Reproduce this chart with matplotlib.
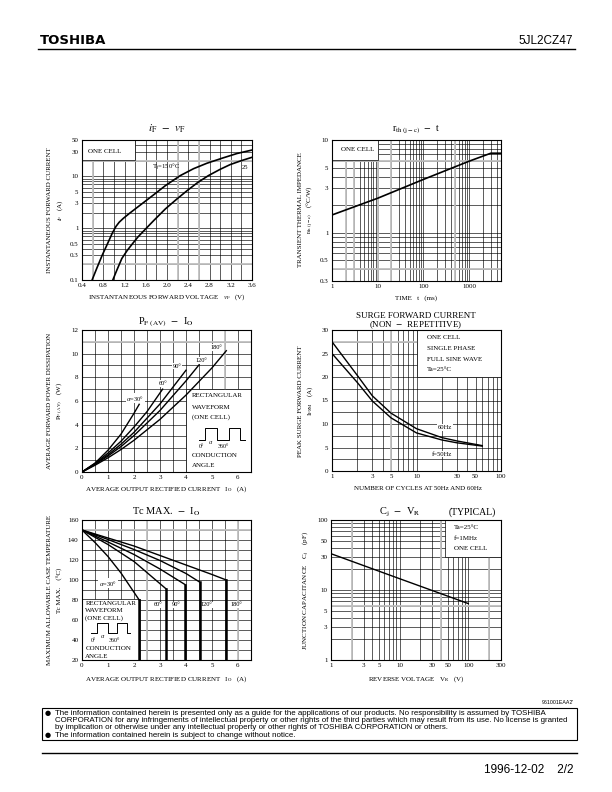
import matplotlib
matplotlib.use('Agg')
import matplotlib.pyplot as plt
from matplotlib.ticker import MultipleLocator, NullFormatter
from matplotlib.patches import Rectangle

plt.rcParams['font.family'] = ['Liberation Serif', 'DejaVu Serif']
plt.rcParams['mathtext.fontset'] = 'stix'

# iF - vF
vf_150 = [0.59, 0.68, 0.78, 0.88, 0.97, 1.04, 1.10, 1.18, 1.30, 1.50, 1.75, 1.97, 2.25, 2.50, 2.75, 3.05, 3.32, 3.60]
if_150 = [0.1, 0.17, 0.30, 0.50, 0.80, 1.08, 1.30, 1.55, 1.95, 2.8, 4.4, 6.6, 10.3, 14.0, 17.8, 22.5, 27.5, 32.0]
vf_25 = [0.98, 1.05, 1.15, 1.25, 1.35, 1.45, 1.56, 1.75, 1.97, 2.18, 2.38, 2.58, 2.78, 3.00, 3.19, 3.40, 3.60]
if_25 = [0.1, 0.15, 0.26, 0.37, 0.50, 0.67, 0.88, 1.40, 2.35, 3.6, 5.3, 7.6, 10.3, 13.6, 16.8, 20.0, 23.2]

# rth(j-c) - t
t_ms = [1, 10, 100, 1000, 3000, 5000]
rth = [1.55, 2.35, 3.75, 5.9, 7.2, 7.2]

# PF(AV) - IO
pf_angles = ['$\\alpha$=30°', '60°', '90°', '120°', '180°']
pf_io = [[0, 0.5, 1, 1.5, 2, 2.2],
         [0, 0.5, 1, 1.5, 2, 2.5, 3.1],
         [0, 0.5, 1, 1.5, 2, 3, 4],
         [0, 0.5, 1, 1.5, 2, 3, 4, 4.5],
         [0, 0.5, 1, 1.5, 2, 3, 4, 5, 5.55]]
pf_w = [[0, 0.75, 1.84, 3.2, 4.96, 5.72],
        [0, 0.72, 1.6, 2.6, 3.8, 5.1, 7.0],
        [0, 0.68, 1.45, 2.35, 3.35, 5.75, 8.6],
        [0, 0.63, 1.35, 2.15, 3.08, 5.2, 7.7, 9.05],
        [0, 0.57, 1.2, 1.9, 2.68, 4.45, 6.5, 8.8, 10.25]]
pf_label_xy = [(2.05, 6.25), (3.13, 7.5), (3.65, 8.95), (4.6, 9.45), (5.17, 10.5)]

# Surge forward current
n_cycles = [1, 2, 3, 5, 10, 20, 30, 60]
ifsm_60 = [27.5, 20.3, 16.0, 12.3, 9.0, 7.1, 6.4, 5.4]
ifsm_50 = [25.0, 18.8, 14.9, 11.3, 8.1, 6.6, 6.0, 5.3]

# Tc max - IO
tc_angles = ['$\\alpha$=30°', '60°', '90°', '120°', '180°']
tc_io = [[0, 0.5, 1, 1.5, 2.2],
         [0, 1, 2, 3.24],
         [0, 1, 2, 3, 3.96],
         [0, 1, 2, 3, 4, 4.52],
         [0, 1, 2, 3, 4, 5, 5.55]]
tc_deg = [[150, 137.5, 123.5, 107, 80],
          [150, 135.5, 118.5, 91],
          [150, 138, 125.5, 111, 95.5],
          [150, 140.5, 130.5, 119.5, 106.5, 98],
          [150, 142, 134, 124.5, 115, 105.5, 100]]
tc_label_xy = [(1.0, 97), (2.92, 75), (3.62, 75), (4.8, 75), (5.95, 75)]

# Cj - VR
vr = [1, 10, 100]
cj = [33.0, 14.5, 6.4]

W, H = 612, 792
fig = plt.figure(figsize=(6.12, 7.92), dpi=100)


def axes_px(x0, y0, x1, y1):
    return fig.add_axes([x0 / W, 1 - y1 / H, (x1 - x0) / W, (y1 - y0) / H])


def ftxt(x, y, s, **kw):
    fig.text(x / W, 1 - y / H, s, **kw)


def style(ax):
    ax.tick_params(which='both', length=0, labelsize=5, pad=2.5)
    for s in ax.spines.values():
        s.set_linewidth(0.8)
    ax.grid(which='both', color='k', lw=0.45)
    ax.set_axisbelow(True)
    ax.xaxis.set_minor_formatter(NullFormatter())
    ax.yaxis.set_minor_formatter(NullFormatter())


def gray(ax, xs=(), ys=()):
    for x in xs:
        ax.axvline(x, color='0.75', lw=1.3, zorder=0.6)
    for y in ys:
        ax.axhline(y, color='0.75', lw=1.3, zorder=0.6)


def box(ax, x0, y0, x1, y1):
    ax.add_patch(Rectangle((x0, y0), x1 - x0, y1 - y0, facecolor='white',
                           edgecolor='k', lw=0.5, zorder=1))


def curve(ax, x, y, lw=1.0):
    ax.plot(x, y, color='k', lw=lw, zorder=4, solid_joinstyle='round')


def waveform(ax, xs, ytop, ybot, ylab):
    x = [xs[0], xs[1], xs[1], xs[2], xs[2], xs[3], xs[3], xs[4], xs[4], xs[5]]
    y = [ybot, ybot, ytop, ytop, ybot, ybot, ytop, ytop, ybot, ybot]
    ax.plot(x, y, color='k', lw=0.7, zorder=3)
    ax.text(xs[1] - 0.03, ylab, '0°', fontsize=4.3, ha='right', va='center', zorder=3)
    ax.text((xs[1] + xs[2]) / 2, ylab, '$\\alpha$', fontsize=4.3, ha='center', va='bottom', zorder=3)
    ax.text(xs[2] + 0.03, ylab, '360°', fontsize=4.3, ha='left', va='center', zorder=3)


lab = dict(fontsize=5, ha='center', va='center')
tb = dict(facecolor='white', edgecolor='none', pad=0.6)

# ---------- 1: iF - vF
ax1 = axes_px(82, 140, 252, 280)
ax1.set_yscale('log')
ax1.set_xlim(0.4, 3.6)
ax1.set_ylim(0.1, 50)
ax1.set_xticks([0.4, 0.8, 1.2, 1.6, 2.0, 2.4, 2.8, 3.2, 3.6])
ax1.set_xticklabels(['0.4', '0.8', '1.2', '1.6', '2.0', '2.4', '2.8', '3.2', '3.6'])
ax1.xaxis.set_minor_locator(MultipleLocator(0.2))
ax1.set_yticks([0.1, 0.3, 0.5, 1, 3, 5, 10, 30, 50])
ax1.set_yticklabels(['0.1', '0.3', '0.5', '1', '3', '5', '10', '30', '50'])
style(ax1)
gray(ax1, xs=[0.6, 2.2, 2.6], ys=[0.2, 20])
box(ax1, 0.4, 20.6, 1.39, 50)
ax1.text(0.52, 30, 'ONE CELL', fontsize=5, va='center', zorder=3)
curve(ax1, vf_150, if_150, lw=1.2)
curve(ax1, vf_25, if_25, lw=1.2)
ax1.text(1.72, 14.6, 'T$_\\mathrm{j}$=150°C', fontsize=4.8, ha='left', va='center', zorder=3)
ax1.text(3.41, 14.6, '25', fontsize=4.8, ha='left', va='center', zorder=3)
ftxt(167, 129, '$i_\\mathrm{F}$  $-$  $v_\\mathrm{F}$', fontsize=8, ha='center', va='center')
ftxt(167, 297, 'INSTANTANEOUS FORWARD VOLTAGE   $v_\\mathrm{F}$   (V)', **lab)
ftxt(50, 210, 'INSTANTANEOUS FORWARD CURRENT', rotation=90, **lab)
ftxt(60, 210, '$i_\\mathrm{F}$   (A)', rotation=90, **lab)

# ---------- 2: rth - t
ax2 = axes_px(332, 140, 501, 281)
ax2.set_xscale('log')
ax2.set_yscale('log')
ax2.set_xlim(1, 5000)
ax2.set_ylim(0.3, 10)
ax2.set_xticks([1, 10, 100, 1000])
ax2.set_xticklabels(['1', '10', '100', '1000'])
ax2.set_yticks([0.3, 0.5, 1, 3, 5, 10])
ax2.set_yticklabels(['0.3', '0.5', '1', '3', '5', '10'])
style(ax2)
gray(ax2, xs=[2, 3, 10, 20, 500], ys=[0.4, 6])
box(ax2, 1, 6.1, 10, 10)
ax2.text(1.6, 7.9, 'ONE CELL', fontsize=5, va='center', zorder=3)
curve(ax2, t_ms, rth, lw=1.2)
ftxt(416, 130, 'r$_\\mathrm{th\\ (j-c)}$  $-$  t', fontsize=7, ha='center', va='center')
ftxt(416, 298, 'TIME   t   (ms)', **lab)
ftxt(300, 210, 'TRANSIENT THERMAL IMPEDANCE', rotation=90, **lab)
ftxt(310, 210, 'r$_\\mathrm{th\\ (j-c)}$    (°C/W)', rotation=90, **lab)

# ---------- 3: PF(AV) - IO
ax3 = axes_px(82, 330, 251, 472)
ax3.set_xlim(0, 6.5)
ax3.set_ylim(0, 12)
ax3.set_xticks(range(0, 7))
ax3.set_yticks(range(0, 13, 2))
ax3.xaxis.set_minor_locator(MultipleLocator(0.5))
ax3.yaxis.set_minor_locator(MultipleLocator(1))
style(ax3)
gray(ax3, xs=[5.5], ys=[11])
for io, w in zip(pf_io, pf_w):
    curve(ax3, io, w)
for name, (x, y) in zip(pf_angles, pf_label_xy):
    ax3.text(x, y, name, fontsize=4.6, ha='center', va='center', zorder=3, bbox=tb)
box(ax3, 4.0, 0, 6.5, 7.05)
ax3.text(4.23, 6.5, 'RECTANGULAR', fontsize=5, va='center', zorder=3)
ax3.text(4.23, 5.45, 'WAVEFORM', fontsize=5, va='center', zorder=3)
ax3.text(4.23, 4.6, '(ONE CELL)', fontsize=5, va='center', zorder=3)
waveform(ax3, [4.51, 4.74, 5.19, 5.64, 6.06, 6.25], 3.76, 2.74, 2.18)
ax3.text(4.23, 1.36, 'CONDUCTION', fontsize=5, va='center', zorder=3)
ax3.text(4.23, 0.54, 'ANGLE', fontsize=5, va='center', zorder=3)
ftxt(166, 322, 'P$_\\mathrm{F\\ (AV)}$  $-$  I$_\\mathrm{O}$', fontsize=7.5, ha='center', va='center')
ftxt(166, 489, 'AVERAGE OUTPUT RECTIFIED CURRENT   I$_\\mathrm{O}$   (A)', **lab)
ftxt(50, 401, 'AVERAGE FORWARD POWER DISSIPATION', rotation=90, **lab)
ftxt(60, 401, 'P$_\\mathrm{F\\ (AV)}$    (W)', rotation=90, **lab)

# ---------- 4: surge
ax4 = axes_px(332, 330, 501, 471)
ax4.set_xscale('log')
ax4.set_xlim(1, 100)
ax4.set_ylim(0, 30)
ax4.set_xticks([1, 3, 5, 10, 30, 50, 100])
ax4.set_xticklabels(['1', '3', '5', '10', '30', '50', '100'])
ax4.set_yticks(range(0, 31, 5))
ax4.yaxis.set_minor_locator(MultipleLocator(2.5))
style(ax4)
gray(ax4, xs=[5])
ax4.plot([1, 10], [27.5, 27.5], color='0.75', lw=1.3, zorder=0.6)
box(ax4, 10, 20, 100, 30)
for i, s in enumerate(['ONE CELL', 'SINGLE PHASE', 'FULL SINE WAVE', 'Ta=25°C']):
    ax4.text(13.4, [28.4, 26.1, 23.8, 21.6][i], s, fontsize=5, va='center', zorder=3)
curve(ax4, n_cycles, ifsm_60)
curve(ax4, n_cycles, ifsm_50)
ax4.text(21.5, 9.2, '60Hz', fontsize=4.8, ha='center', va='center', zorder=3, bbox=tb)
ax4.text(20, 3.6, 'f=50Hz', fontsize=4.8, ha='center', va='center', zorder=3, bbox=tb)
ftxt(416, 316, 'SURGE FORWARD CURRENT', fontsize=6.5, ha='center', va='center')
ftxt(416, 325, '(NON  $-$  REPETITIVE)', fontsize=6.5, ha='center', va='center')
ftxt(418, 489, 'NUMBER OF CYCLES AT 50Hz AND 60Hz', **lab)
ftxt(300, 401, 'PEAK SURGE FORWARD CURRENT', rotation=90, **lab)
ftxt(310, 401, 'I$_\\mathrm{FSM}$    (A)', rotation=90, **lab)

# ---------- 5: Tc max - IO
ax5 = axes_px(82, 520, 251, 660)
ax5.set_xlim(0, 6.5)
ax5.set_ylim(20, 160)
ax5.set_xticks(range(0, 7))
ax5.set_yticks(range(20, 161, 20))
ax5.xaxis.set_minor_locator(MultipleLocator(0.5))
ax5.yaxis.set_minor_locator(MultipleLocator(10))
style(ax5)
gray(ax5, xs=[2.5, 6.0], ys=[150])
for io, tc in zip(tc_io, tc_deg):
    curve(ax5, io, tc)
    ax5.plot([io[-1], io[-1]], [tc[-1], 20], color='k', lw=1.8, zorder=4)
for name, (x, y) in zip(tc_angles, tc_label_xy):
    ax5.text(x, y, name, fontsize=4.6, ha='center', va='center', zorder=3, bbox=tb)
box(ax5, 0, 20, 2.23, 80.7)
ax5.text(0.13, 76.5, 'RECTANGULAR', fontsize=5, va='center', zorder=3)
ax5.text(0.13, 69, 'WAVEFORM', fontsize=5, va='center', zorder=3)
ax5.text(0.13, 61.5, '(ONE CELL)', fontsize=5, va='center', zorder=3)
waveform(ax5, [0.36, 0.58, 1.0, 1.33, 1.74, 1.84], 56.7, 47.3, 40)
ax5.text(0.13, 31, 'CONDUCTION', fontsize=5, va='center', zorder=3)
ax5.text(0.13, 23.5, 'ANGLE', fontsize=5, va='center', zorder=3)
ftxt(166, 512, 'Tc MAX.  $-$  I$_\\mathrm{O}$', fontsize=7.5, ha='center', va='center')
ftxt(166, 679, 'AVERAGE OUTPUT RECTIFIED CURRENT   I$_\\mathrm{O}$   (A)', **lab)
ftxt(50, 590, 'MAXIMUM ALLOWABLE CASE TEMPERATURE', rotation=90, **lab)
ftxt(60, 590, 'Tc MAX.    (°C)', rotation=90, **lab)

# ---------- 6: Cj - VR
ax6 = axes_px(331, 520, 501, 660)
ax6.set_xscale('log')
ax6.set_yscale('log')
ax6.set_xlim(1, 300)
ax6.set_ylim(1, 100)
ax6.set_xticks([1, 3, 5, 10, 30, 50, 100, 300])
ax6.set_xticklabels(['1', '3', '5', '10', '30', '50', '100', '300'])
ax6.set_yticks([1, 3, 5, 10, 30, 50, 100])
ax6.set_yticklabels(['1', '3', '5', '10', '30', '50', '100'])
style(ax6)
gray(ax6, xs=[2, 40, 200], ys=[6])
box(ax6, 45.7, 30, 300, 100)
ax6.text(61, 77, 'Ta=25°C', fontsize=5, va='center', zorder=3)
ax6.text(61, 54, 'f=1MHz', fontsize=5, va='center', zorder=3)
ax6.text(61, 39, 'ONE CELL', fontsize=5, va='center', zorder=3)
curve(ax6, vr, cj)
ftxt(400, 512, 'C$_\\mathrm{j}$  $-$  V$_\\mathrm{R}$', fontsize=7.5, ha='center', va='center')
ftxt(472, 512, '(TYPICAL)', fontsize=7, ha='center', va='center')
ftxt(416, 679, 'REVERSE VOLTAGE   V$_\\mathrm{R}$   (V)', **lab)
ftxt(306, 590, 'JUNCTION CAPACITANCE    C$_\\mathrm{j}$    (pF)', rotation=90, **lab)

# ---------- header / footer
ftxt(40, 41, 'TOSHIBA', fontsize=9.5, fontweight='heavy', family='DejaVu Sans', va='center')
ftxt(573, 41, '5JL2CZ47', fontsize=8.5, family='Liberation Sans', ha='right', va='center')
fig.add_artist(plt.Line2D([38 / W, 575 / W], [1 - 49 / H, 1 - 49 / H], color='k', lw=1.0))

ftxt(574, 703, "961001EAA2'", fontsize=3.8, family='Liberation Sans', ha='right', va='center')
fig.add_artist(Rectangle((42 / W, 1 - 740 / H), 535 / W, 32 / H, transform=fig.transFigure,
                         facecolor='none', edgecolor='k', lw=0.8))
foot = ['The information contained herein is presented only as a guide for the applications of our products. No responsibility is assumed by TOSHIBA',
        'CORPORATION for any infringements of intellectual property or other rights of the third parties which may result from its use. No license is granted',
        'by implication or otherwise under any intellectual property or other rights of TOSHIBA CORPORATION or others.',
        'The information contained herein is subject to change without notice.']
for i, s in enumerate(foot):
    ftxt(55, 713.5 + i * 7.2, s, fontsize=5.7, family='Liberation Sans', va='center')
for yb in (713.5, 735.1):
    ftxt(45, yb, '●', fontsize=5, family='DejaVu Sans', va='center')
fig.add_artist(plt.Line2D([42 / W, 577 / W], [1 - 753 / H, 1 - 753 / H], color='k', lw=1.0))
ftxt(574, 770, '1996-12-02    2/2', fontsize=8.5, family='Liberation Sans', ha='right', va='center')

fig.savefig('out.png', dpi=100, facecolor='white')
